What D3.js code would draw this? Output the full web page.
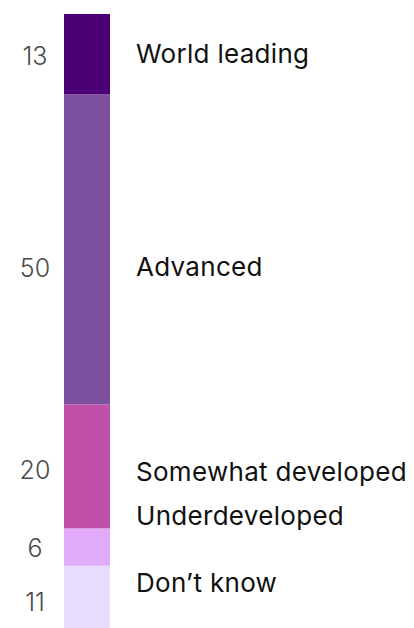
<!DOCTYPE html>
<html>
<head>
<meta charset="utf-8">
<script src="https://cdn.jsdelivr.net/npm/d3@7"></script>
<style>
  html, body { margin: 0; padding: 0; background: #ffffff; }
  svg { display: block; }
</style>
</head>
<body>
<div id="chart"></div>
<script>
// ---- data ----
const categories = ["World leading", "Advanced", "Somewhat developed", "Underdeveloped", "Don\u2019t know"];
const values = [13, 50, 20, 6, 11];
const colors = ["#4b0076", "#7c4f9f", "#c050a9", "#e2aafb", "#e7dcfd"];

// ---- layout (label nudges, px, relative to segment centre) ----
const numberShift = [1.5, 18.5, 3.5, 0.5, 2];
const labelShift = [-1, 17, 5, -31.5, -17];

const W = 414, H = 628;
const svg = d3.select("#chart").append("svg").attr("width", W).attr("height", H);

let acc = 0;
const segs = values.map((v, i) => {
  const s = { cat: categories[i], value: v, y0: acc, y1: acc + v, color: colors[i], i };
  acc += v;
  return s;
});

const y = d3.scaleLinear().domain([0, 100]).range([14, 634]);
const x = d3.scaleBand().domain(["bar"]).range([64, 110]).padding(0);

svg.selectAll("rect.seg").data(segs).join("rect")
  .attr("class", "seg")
  .attr("x", x("bar"))
  .attr("width", x.bandwidth())
  .attr("y", d => y(d.y0))
  .attr("height", d => y(d.y1) - y(d.y0))
  .attr("fill", d => d.color);

svg.selectAll("text.num").data(segs).join("text")
  .attr("class", "num")
  .attr("x", 35)
  .attr("y", d => (y(d.y0) + y(d.y1)) / 2 + numberShift[d.i])
  .attr("dy", "0.36em")
  .attr("text-anchor", "middle")
  .attr("font-family", "Inter, 'Noto Sans', sans-serif")
  .attr("font-weight", 300)
  .attr("font-size", 25)
  .attr("fill", "#4a4a4a")
  .text(d => d.value);

svg.selectAll("text.lab").data(segs).join("text")
  .attr("class", "lab")
  .attr("x", 136)
  .attr("y", d => (y(d.y0) + y(d.y1)) / 2 + labelShift[d.i])
  .attr("dy", "0.36em")
  .attr("font-family", "Inter, 'Noto Sans', sans-serif")
  .attr("font-weight", 400)
  .attr("font-size", 26)
  .attr("letter-spacing", "0.3px")
  .attr("fill", "#111111")
  .text(d => d.cat);
</script>
</body>
</html>
